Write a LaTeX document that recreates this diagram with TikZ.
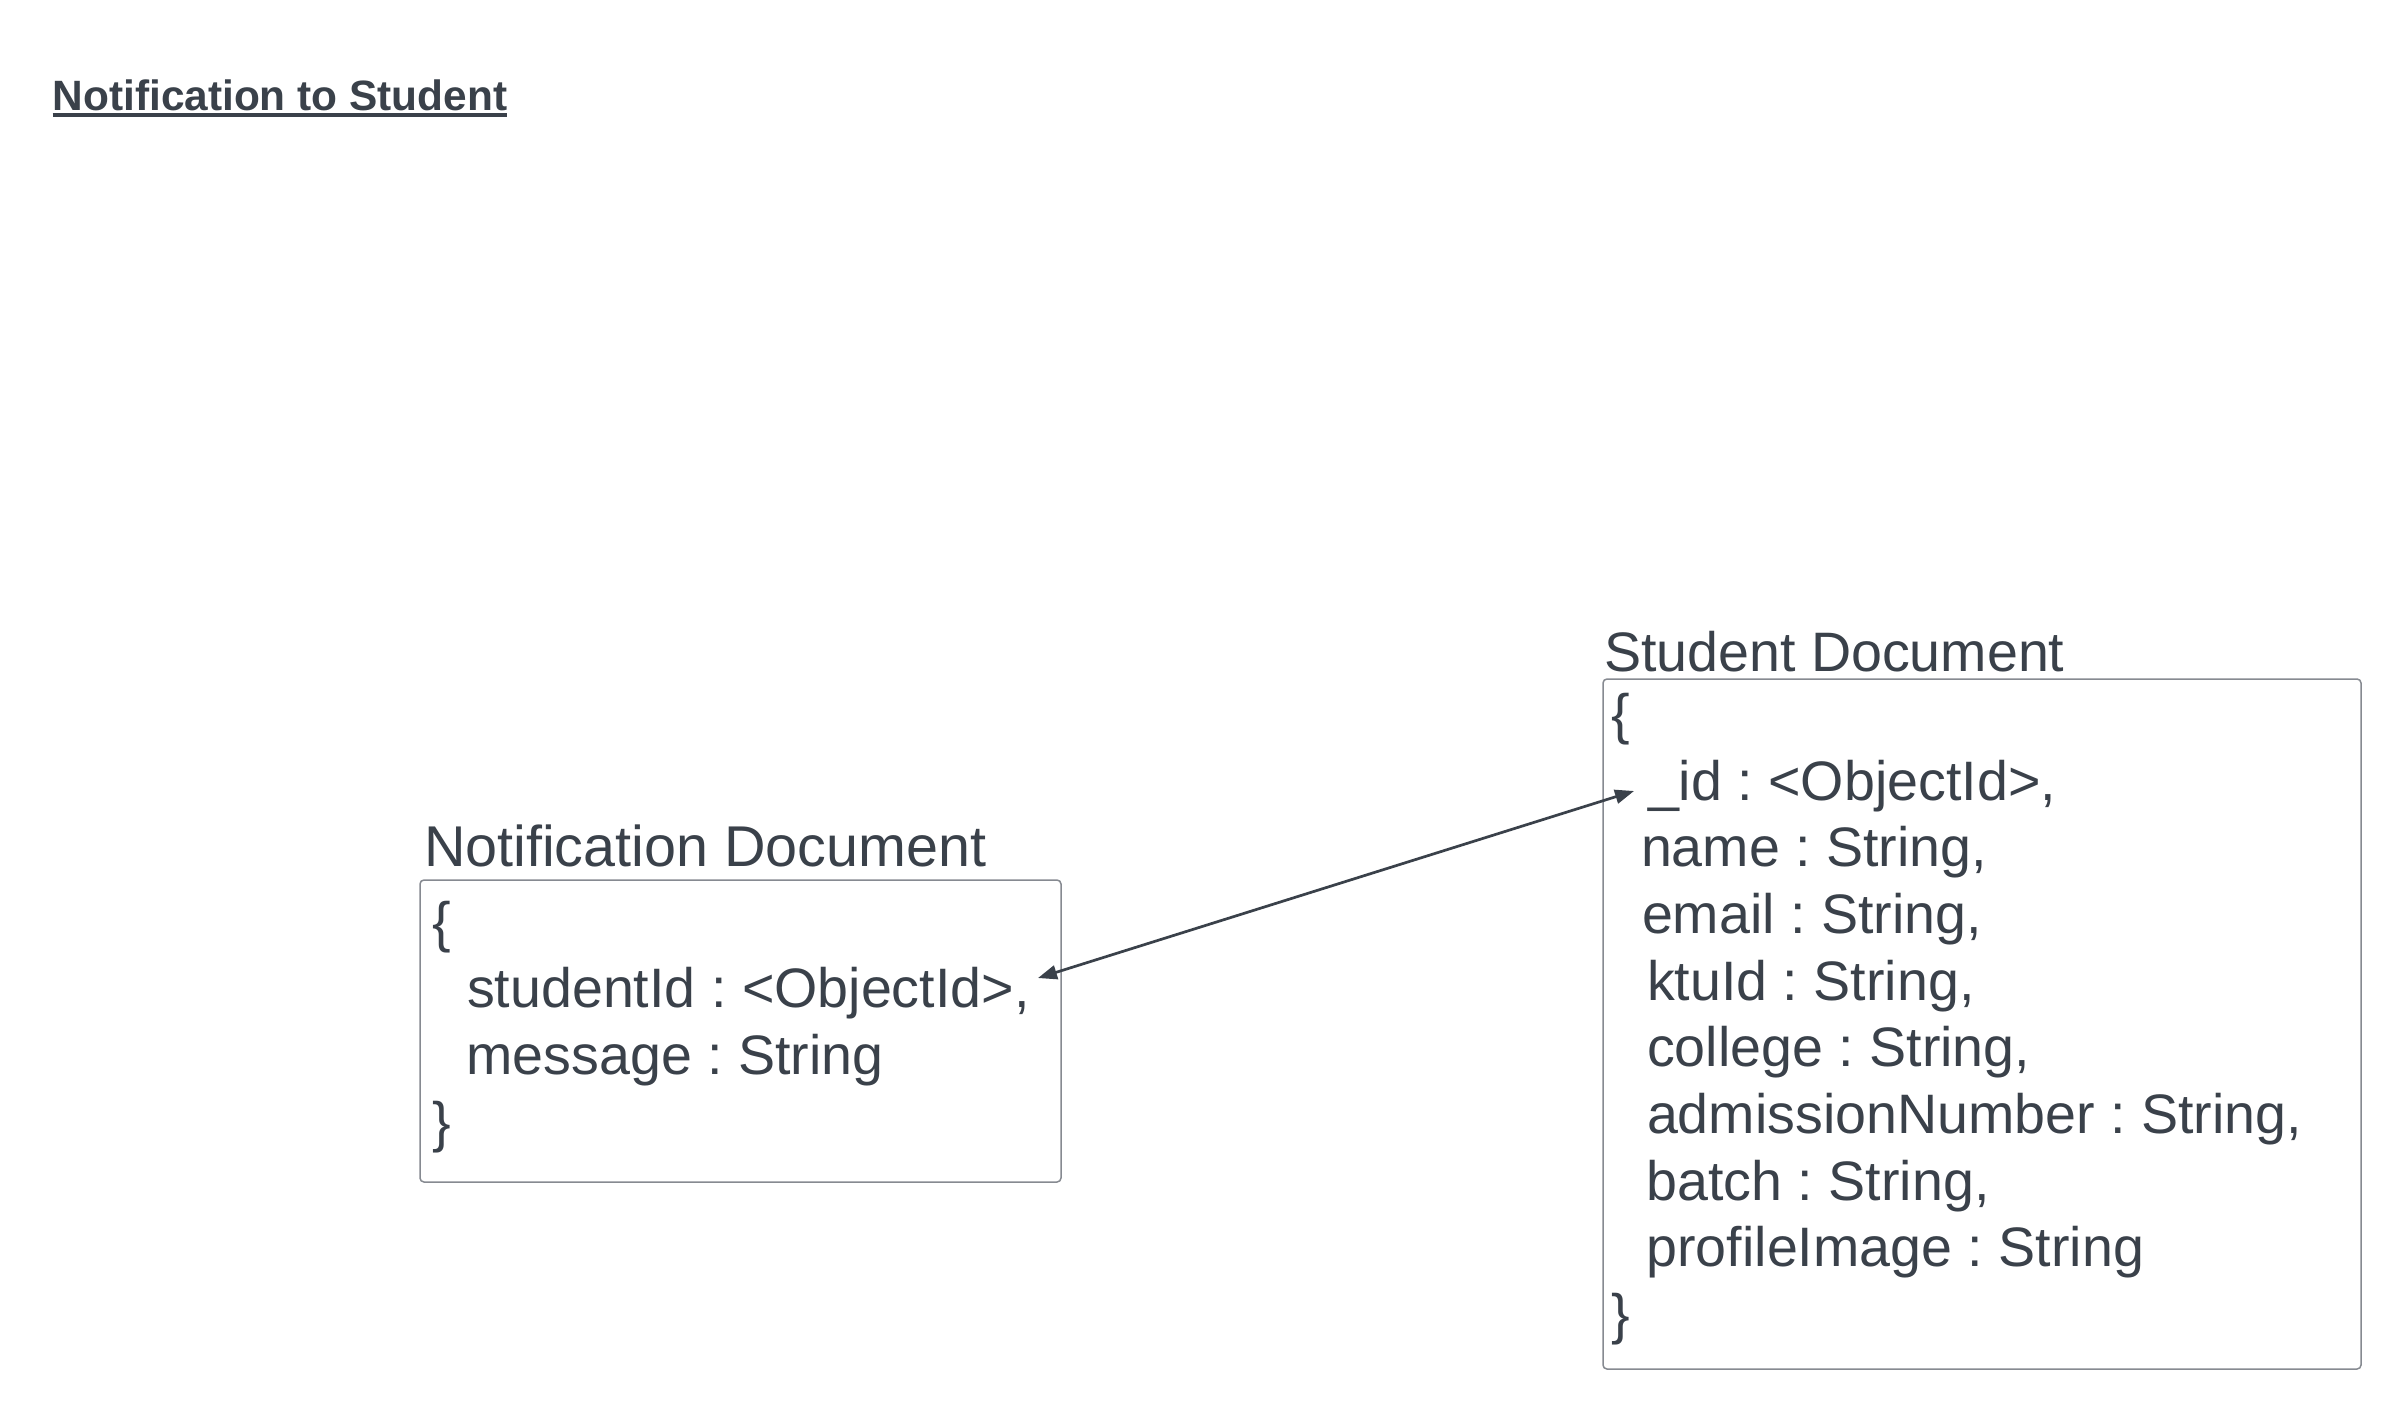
\documentclass[tikz,border=0pt]{standalone}
\usepackage{fontspec}
\setmainfont{Liberation Sans}
\frenchspacing
\usetikzlibrary{arrows.meta}
\definecolor{ink}{HTML}{3A414A}
\definecolor{boxline}{HTML}{868A91}
\tikzset{
  txt/.style={anchor=base west, inner sep=0pt, outer sep=0pt, text=ink, font=\fontsize{55.6}{66}\selectfont},
  docbox/.style={draw=boxline, line width=1.5pt, rounded corners=4pt},
  link/.style={draw=ink, line width=2.7pt, {Triangle[length=19pt,width=14pt]}-{Triangle[length=19pt,width=14pt]}}
}
\begin{document}
\begin{tikzpicture}[x=1pt,y=-1pt]
\useasboundingbox[fill=white] (0,0) rectangle (2400,1408);
% title
\node[anchor=base west, inner sep=0pt, text=ink, font=\fontsize{42.4}{50}\selectfont\bfseries] (title) at (52.5,110) {Notification to Student};
\draw[ink, line width=4pt] ([yshift=-4.5pt]title.base west) -- ([yshift=-4.5pt]title.base east);
% notification document
\node[txt, font=\fontsize{57.5}{66}\selectfont] (nlabel) at (424,866) {Notification Document};
\draw[docbox] (420,880) rectangle (1061,1182);
\node[txt] (nopen) at (432,941) {\{};
\node[txt] (sid) at (467,1007.7) {studentId : <ObjectId>,};
\node[txt] (msg) at (466.5,1074.3) {message : String};
\node[txt] (nclose) at (432,1141) {\}};
% student document
\node[txt, font=\fontsize{55.6}{66}\selectfont] (slabel) at (1604,671.7) {Student Document};
\draw[docbox] (1603,679) rectangle (2361,1369);
\node[txt] (sopen) at (1611,733) {\{};
\node[txt] (idl) at (1648,800) {\_id : <ObjectId>,};
\node[txt] (namel) at (1641,866.7) {name : String,};
\node[txt] (emaill) at (1642,933.3) {email : String,};
\node[txt] (ktul) at (1647,1000) {ktuId : String,};
\node[txt] (collegel) at (1647,1066.7) {college : String,};
\node[txt] (adml) at (1647,1133.3) {admissionNumber : String,};
\node[txt] (batchl) at (1646.5,1200) {batch : String,};
\node[txt] (profl) at (1646.5,1266.7) {profileImage : String};
\node[txt] (sclose) at (1611,1333.3) {\}};
% connector
\coordinate (pa) at (1038,978);
\coordinate (pb) at (1634,791);
\draw[link] (pa) -- (pb);
\end{tikzpicture}
\end{document}
